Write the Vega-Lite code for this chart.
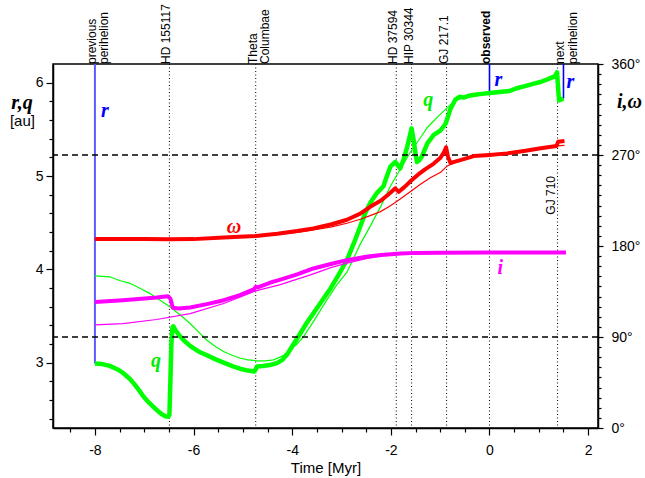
{
  "$schema": "https://vega.github.io/schema/vega-lite/v6.json",
  "width": 545,
  "height": 364,
  "autosize": {"type": "none"},
  "padding": {"left": 53, "top": 64, "right": 47, "bottom": 50},
  "background": "white",
  "config": {
    "view": {"stroke": "black", "strokeWidth": 1.5},
    "axis": {
      "grid": false,
      "domainColor": "black",
      "domainWidth": 1.5,
      "tickColor": "black",
      "tickWidth": 1.2,
      "labelColor": "black",
      "labelFont": "Liberation Sans",
      "labelFontSize": 14,
      "labelOverlap": false,
      "labelFlush": false,
      "labelBound": false,
      "titleColor": "black"
    }
  },
  "datasets": {
    "rq": [
      {"s": "q", "t": -8.0, "v": 2.99}, {"s": "q", "t": -7.85, "v": 2.985}, {"s": "q", "t": -7.7, "v": 2.965},
      {"s": "q", "t": -7.55, "v": 2.93}, {"s": "q", "t": -7.43, "v": 2.89}, {"s": "q", "t": -7.3, "v": 2.83},
      {"s": "q", "t": -7.2, "v": 2.77}, {"s": "q", "t": -7.1, "v": 2.7}, {"s": "q", "t": -7.02, "v": 2.64},
      {"s": "q", "t": -6.92, "v": 2.58}, {"s": "q", "t": -6.82, "v": 2.53}, {"s": "q", "t": -6.72, "v": 2.48},
      {"s": "q", "t": -6.65, "v": 2.45}, {"s": "q", "t": -6.57, "v": 2.425}, {"s": "q", "t": -6.52, "v": 2.42},
      {"s": "q", "t": -6.49, "v": 2.44}, {"s": "q", "t": -6.47, "v": 2.8}, {"s": "q", "t": -6.45, "v": 3.2},
      {"s": "q", "t": -6.43, "v": 3.37}, {"s": "q", "t": -6.41, "v": 3.39}, {"s": "q", "t": -6.37, "v": 3.35},
      {"s": "q", "t": -6.3, "v": 3.3}, {"s": "q", "t": -6.2, "v": 3.24}, {"s": "q", "t": -6.07, "v": 3.18},
      {"s": "q", "t": -5.9, "v": 3.12}, {"s": "q", "t": -5.73, "v": 3.08}, {"s": "q", "t": -5.55, "v": 3.035},
      {"s": "q", "t": -5.39, "v": 3.0}, {"s": "q", "t": -5.2, "v": 2.96}, {"s": "q", "t": -5.06, "v": 2.935},
      {"s": "q", "t": -4.9, "v": 2.915}, {"s": "q", "t": -4.77, "v": 2.905}, {"s": "q", "t": -4.74, "v": 2.93},
      {"s": "q", "t": -4.71, "v": 2.96}, {"s": "q", "t": -4.6, "v": 2.965}, {"s": "q", "t": -4.45, "v": 2.975},
      {"s": "q", "t": -4.31, "v": 2.995}, {"s": "q", "t": -4.2, "v": 3.03}, {"s": "q", "t": -4.1, "v": 3.09},
      {"s": "q", "t": -3.97, "v": 3.2}, {"s": "q", "t": -3.84, "v": 3.31}, {"s": "q", "t": -3.7, "v": 3.43},
      {"s": "q", "t": -3.57, "v": 3.53}, {"s": "q", "t": -3.4, "v": 3.66}, {"s": "q", "t": -3.23, "v": 3.79},
      {"s": "q", "t": -3.06, "v": 3.94}, {"s": "q", "t": -2.89, "v": 4.1}, {"s": "q", "t": -2.75, "v": 4.28},
      {"s": "q", "t": -2.62, "v": 4.46}, {"s": "q", "t": -2.52, "v": 4.6}, {"s": "q", "t": -2.42, "v": 4.71},
      {"s": "q", "t": -2.28, "v": 4.82}, {"s": "q", "t": -2.15, "v": 4.89}, {"s": "q", "t": -2.08, "v": 5.0},
      {"s": "q", "t": -2.01, "v": 5.1}, {"s": "q", "t": -1.91, "v": 5.15}, {"s": "q", "t": -1.85, "v": 5.11},
      {"s": "q", "t": -1.81, "v": 5.08}, {"s": "q", "t": -1.74, "v": 5.18}, {"s": "q", "t": -1.67, "v": 5.31},
      {"s": "q", "t": -1.62, "v": 5.42}, {"s": "q", "t": -1.58, "v": 5.51}, {"s": "q", "t": -1.54, "v": 5.39},
      {"s": "q", "t": -1.5, "v": 5.24}, {"s": "q", "t": -1.47, "v": 5.15}, {"s": "q", "t": -1.42, "v": 5.17},
      {"s": "q", "t": -1.37, "v": 5.21}, {"s": "q", "t": -1.26, "v": 5.35}, {"s": "q", "t": -1.13, "v": 5.44},
      {"s": "q", "t": -0.99, "v": 5.49}, {"s": "q", "t": -0.89, "v": 5.56}, {"s": "q", "t": -0.84, "v": 5.64},
      {"s": "q", "t": -0.79, "v": 5.72}, {"s": "q", "t": -0.69, "v": 5.82}, {"s": "q", "t": -0.6, "v": 5.85},
      {"s": "q", "t": -0.52, "v": 5.84}, {"s": "q", "t": -0.42, "v": 5.86}, {"s": "q", "t": -0.3, "v": 5.87},
      {"s": "q", "t": -0.15, "v": 5.88}, {"s": "q", "t": 0.0, "v": 5.89}, {"s": "q", "t": 0.2, "v": 5.9},
      {"s": "q", "t": 0.4, "v": 5.91}, {"s": "q", "t": 0.55, "v": 5.94}, {"s": "q", "t": 0.7, "v": 5.96},
      {"s": "q", "t": 0.9, "v": 5.99}, {"s": "q", "t": 1.05, "v": 6.01}, {"s": "q", "t": 1.2, "v": 6.04},
      {"s": "q", "t": 1.33, "v": 6.07}, {"s": "q", "t": 1.37, "v": 6.11}, {"s": "q", "t": 1.39, "v": 5.95},
      {"s": "q", "t": 1.41, "v": 5.81}, {"s": "q", "t": 1.5, "v": 5.83},

      {"s": "q0", "t": -8.0, "v": 3.93}, {"s": "q0", "t": -7.7, "v": 3.92}, {"s": "q0", "t": -7.5, "v": 3.88},
      {"s": "q0", "t": -7.29, "v": 3.85}, {"s": "q0", "t": -7.1, "v": 3.8}, {"s": "q0", "t": -6.88, "v": 3.74},
      {"s": "q0", "t": -6.68, "v": 3.67}, {"s": "q0", "t": -6.48, "v": 3.6}, {"s": "q0", "t": -6.27, "v": 3.51},
      {"s": "q0", "t": -6.07, "v": 3.42}, {"s": "q0", "t": -5.9, "v": 3.33}, {"s": "q0", "t": -5.73, "v": 3.24},
      {"s": "q0", "t": -5.55, "v": 3.17}, {"s": "q0", "t": -5.39, "v": 3.12}, {"s": "q0", "t": -5.22, "v": 3.08},
      {"s": "q0", "t": -5.06, "v": 3.05}, {"s": "q0", "t": -4.9, "v": 3.03}, {"s": "q0", "t": -4.72, "v": 3.02},
      {"s": "q0", "t": -4.55, "v": 3.02}, {"s": "q0", "t": -4.38, "v": 3.03}, {"s": "q0", "t": -4.2, "v": 3.07},
      {"s": "q0", "t": -4.04, "v": 3.14}, {"s": "q0", "t": -3.9, "v": 3.2}, {"s": "q0", "t": -3.77, "v": 3.28},
      {"s": "q0", "t": -3.57, "v": 3.44}, {"s": "q0", "t": -3.3, "v": 3.67}, {"s": "q0", "t": -3.1, "v": 3.83},
      {"s": "q0", "t": -2.89, "v": 3.97}, {"s": "q0", "t": -2.62, "v": 4.27}, {"s": "q0", "t": -2.42, "v": 4.46},
      {"s": "q0", "t": -2.2, "v": 4.68}, {"s": "q0", "t": -2.01, "v": 4.89}, {"s": "q0", "t": -1.8, "v": 5.08},
      {"s": "q0", "t": -1.6, "v": 5.26}, {"s": "q0", "t": -1.4, "v": 5.41}, {"s": "q0", "t": -1.26, "v": 5.52},
      {"s": "q0", "t": -1.0, "v": 5.66}, {"s": "q0", "t": -0.86, "v": 5.73}, {"s": "q0", "t": -0.69, "v": 5.81},
      {"s": "q0", "t": -0.5, "v": 5.84}, {"s": "q0", "t": -0.3, "v": 5.87}, {"s": "q0", "t": 0.0, "v": 5.89},
      {"s": "q0", "t": 0.4, "v": 5.91}, {"s": "q0", "t": 0.7, "v": 5.96}, {"s": "q0", "t": 1.05, "v": 6.01},
      {"s": "q0", "t": 1.36, "v": 6.06}
    ],
    "ang": [
      {"s": "w", "t": -8.0, "v": 187}, {"s": "w", "t": -7.5, "v": 186.9}, {"s": "w", "t": -7.0, "v": 186.8},
      {"s": "w", "t": -6.5, "v": 186.6}, {"s": "w", "t": -6.0, "v": 186.8}, {"s": "w", "t": -5.39, "v": 188.3},
      {"s": "w", "t": -4.74, "v": 190}, {"s": "w", "t": -4.3, "v": 192.2}, {"s": "w", "t": -3.9, "v": 194.8},
      {"s": "w", "t": -3.57, "v": 197.4}, {"s": "w", "t": -3.2, "v": 201.5}, {"s": "w", "t": -2.89, "v": 206},
      {"s": "w", "t": -2.62, "v": 212}, {"s": "w", "t": -2.42, "v": 218.8}, {"s": "w", "t": -2.2, "v": 225},
      {"s": "w", "t": -2.05, "v": 231}, {"s": "w", "t": -1.91, "v": 237}, {"s": "w", "t": -1.84, "v": 233.6},
      {"s": "w", "t": -1.72, "v": 238.5}, {"s": "w", "t": -1.58, "v": 245}, {"s": "w", "t": -1.45, "v": 250.5},
      {"s": "w", "t": -1.3, "v": 256}, {"s": "w", "t": -1.13, "v": 261.5}, {"s": "w", "t": -1.0, "v": 267},
      {"s": "w", "t": -0.93, "v": 272}, {"s": "w", "t": -0.88, "v": 277.5}, {"s": "w", "t": -0.84, "v": 268},
      {"s": "w", "t": -0.79, "v": 262}, {"s": "w", "t": -0.7, "v": 263.5}, {"s": "w", "t": -0.59, "v": 265},
      {"s": "w", "t": -0.32, "v": 268.9}, {"s": "w", "t": 0.0, "v": 270}, {"s": "w", "t": 0.36, "v": 271.6},
      {"s": "w", "t": 0.7, "v": 274}, {"s": "w", "t": 1.04, "v": 276.6}, {"s": "w", "t": 1.36, "v": 279},
      {"s": "w", "t": 1.39, "v": 283}, {"s": "w", "t": 1.52, "v": 283.8},

      {"s": "w0", "t": -8.0, "v": 187}, {"s": "w0", "t": -7.5, "v": 186.9}, {"s": "w0", "t": -7.0, "v": 186.8},
      {"s": "w0", "t": -6.5, "v": 186.6}, {"s": "w0", "t": -6.0, "v": 186.8}, {"s": "w0", "t": -5.39, "v": 188.3},
      {"s": "w0", "t": -4.74, "v": 189.8}, {"s": "w0", "t": -4.3, "v": 191.5}, {"s": "w0", "t": -3.9, "v": 193.5},
      {"s": "w0", "t": -3.57, "v": 195.8}, {"s": "w0", "t": -3.2, "v": 199}, {"s": "w0", "t": -2.89, "v": 202.5},
      {"s": "w0", "t": -2.62, "v": 206.5}, {"s": "w0", "t": -2.42, "v": 210}, {"s": "w0", "t": -2.21, "v": 214},
      {"s": "w0", "t": -2.0, "v": 220}, {"s": "w0", "t": -1.81, "v": 226.5}, {"s": "w0", "t": -1.6, "v": 234},
      {"s": "w0", "t": -1.4, "v": 241}, {"s": "w0", "t": -1.2, "v": 247.5}, {"s": "w0", "t": -0.99, "v": 253},
      {"s": "w0", "t": -0.86, "v": 259}, {"s": "w0", "t": -0.72, "v": 262.5}, {"s": "w0", "t": -0.59, "v": 265},
      {"s": "w0", "t": -0.32, "v": 268.9}, {"s": "w0", "t": 0.0, "v": 270}, {"s": "w0", "t": 0.36, "v": 271.6},
      {"s": "w0", "t": 0.7, "v": 274}, {"s": "w0", "t": 1.04, "v": 276.6}, {"s": "w0", "t": 1.36, "v": 279},
      {"s": "w0", "t": 1.52, "v": 279.5},

      {"s": "i", "t": -8.0, "v": 124.7}, {"s": "i", "t": -7.43, "v": 126.4}, {"s": "i", "t": -6.75, "v": 129},
      {"s": "i", "t": -6.52, "v": 130.4}, {"s": "i", "t": -6.47, "v": 128}, {"s": "i", "t": -6.42, "v": 119},
      {"s": "i", "t": -6.3, "v": 118.2}, {"s": "i", "t": -6.07, "v": 119.2}, {"s": "i", "t": -5.73, "v": 122.5},
      {"s": "i", "t": -5.39, "v": 126.4}, {"s": "i", "t": -5.06, "v": 131.5}, {"s": "i", "t": -4.77, "v": 137.5},
      {"s": "i", "t": -4.74, "v": 139.6}, {"s": "i", "t": -4.7, "v": 139}, {"s": "i", "t": -4.4, "v": 144.5},
      {"s": "i", "t": -4.24, "v": 146.8}, {"s": "i", "t": -3.9, "v": 152}, {"s": "i", "t": -3.57, "v": 157.8},
      {"s": "i", "t": -3.2, "v": 162.5}, {"s": "i", "t": -2.89, "v": 166}, {"s": "i", "t": -2.5, "v": 169.3},
      {"s": "i", "t": -2.2, "v": 171.2}, {"s": "i", "t": -1.8, "v": 172.6}, {"s": "i", "t": -1.5, "v": 173.2},
      {"s": "i", "t": -1.0, "v": 173.4}, {"s": "i", "t": 0.0, "v": 173.5}, {"s": "i", "t": 1.55, "v": 173.6},

      {"s": "i0", "t": -8.0, "v": 101.9}, {"s": "i0", "t": -7.43, "v": 103.3}, {"s": "i0", "t": -6.75, "v": 107.3},
      {"s": "i0", "t": -6.07, "v": 113.2}, {"s": "i0", "t": -5.39, "v": 123.1}, {"s": "i0", "t": -4.74, "v": 135.6},
      {"s": "i0", "t": -4.24, "v": 141.8}, {"s": "i0", "t": -4.04, "v": 145}, {"s": "i0", "t": -3.63, "v": 151.5},
      {"s": "i0", "t": -3.2, "v": 158.8}, {"s": "i0", "t": -2.89, "v": 163}, {"s": "i0", "t": -2.5, "v": 167.5},
      {"s": "i0", "t": -2.2, "v": 170.3}, {"s": "i0", "t": -1.8, "v": 172.3}, {"s": "i0", "t": -1.5, "v": 173.1},
      {"s": "i0", "t": -1.0, "v": 173.4}, {"s": "i0", "t": 0.0, "v": 173.5}, {"s": "i0", "t": 1.55, "v": 173.6}
    ],
    "encounters": [
      {"t": -8.0, "name": "previous\nperihelion", "kind": "perihelion"},
      {"t": -6.49, "name": "HD 155117", "kind": "star"},
      {"t": -4.74, "name": "Theta\nColumbae", "kind": "star"},
      {"t": -1.89, "name": "HD 37594", "kind": "star"},
      {"t": -1.58, "name": "HIP 30344", "kind": "star"},
      {"t": -0.87, "name": "GJ 217.1", "kind": "star"},
      {"t": 0.0, "name": "observed", "kind": "now"},
      {"t": 1.38, "name": "GJ 710", "kind": "inner"},
      {"t": 1.5, "name": "next\nperihelion", "kind": "perihelion"}
    ],
    "radius": [
      {"t": -8.0, "v": 2.99, "when": "past"},
      {"t": 0.0, "v": 5.89, "when": "now"},
      {"t": 1.5, "v": 5.83, "when": "future"}
    ],
    "rqNames": [
      {"t": -7.8, "v": 5.7, "label": "r", "s": "r"},
      {"t": 0.18, "v": 6.03, "label": "r", "s": "r"},
      {"t": 1.64, "v": 6.01, "label": "r", "s": "r"},
      {"t": -6.76, "v": 3.02, "label": "q", "s": "q"},
      {"t": -1.24, "v": 5.81, "label": "q", "s": "q"}
    ],
    "angNames": [
      {"t": -5.18, "v": 198.7, "label": "ω", "s": "w"},
      {"t": 0.22, "v": 158, "label": "i", "s": "i"}
    ],
    "refLevels": [{"v": 90}, {"v": 270}],
    "unit": [{"t": -9.47, "v": 5.59, "label": "[au]"}]
  },
  "layer": [
    {
      "layer": [
        {
          "data": {"name": "encounters"},
          "transform": [{"filter": "datum.kind !== 'perihelion'"}],
          "mark": {"type": "rule", "color": "black", "strokeWidth": 1, "strokeDash": [1, 2.5]},
          "encoding": {
            "x": {"field": "t", "type": "quantitative", "scale": {"domain": [-8.85, 2.2], "nice": false, "zero": false}}
          }
        },
        {
          "data": {"name": "radius"},
          "transform": [{"filter": "datum.when === 'past'"}],
          "mark": {"type": "rule", "color": "#5c5cff", "strokeWidth": 2},
          "encoding": {
            "x": {"field": "t", "type": "quantitative", "scale": {"domain": [-8.85, 2.2], "nice": false, "zero": false}},
            "y": {"field": "v", "type": "quantitative", "scale": {"domain": [2.3, 6.2], "nice": false, "zero": false}},
            "y2": {"datum": 6.2}
          }
        },
        {
          "data": {"name": "radius"},
          "transform": [{"filter": "datum.when !== 'past'"}],
          "mark": {"type": "rule", "color": "#0000ff", "strokeWidth": 1.6},
          "encoding": {
            "x": {"field": "t", "type": "quantitative", "scale": {"domain": [-8.85, 2.2], "nice": false, "zero": false}},
            "y": {"field": "v", "type": "quantitative", "scale": {"domain": [2.3, 6.2], "nice": false, "zero": false}},
            "y2": {"datum": 6.2}
          }
        },
        {
          "data": {"name": "rq"},
          "transform": [{"filter": "datum.s === 'q0'"}],
          "mark": {"type": "line", "color": "#00ff00", "strokeWidth": 1.2},
          "encoding": {
            "x": {"field": "t", "type": "quantitative", "scale": {"domain": [-8.85, 2.2], "nice": false, "zero": false}},
            "y": {"field": "v", "type": "quantitative", "scale": {"domain": [2.3, 6.2], "nice": false, "zero": false}}
          }
        },
        {
          "data": {"name": "rq"},
          "transform": [{"filter": "datum.s === 'q'"}],
          "mark": {"type": "line", "color": "#00ff00", "strokeWidth": 4.5, "strokeJoin": "round"},
          "encoding": {
            "x": {
              "field": "t",
              "type": "quantitative",
              "scale": {"domain": [-8.85, 2.2], "nice": false, "zero": false},
              "axis": {
                "values": [-8.5, -8, -7.5, -7, -6.5, -6, -5.5, -5, -4.5, -4, -3.5, -3, -2.5, -2, -1.5, -1, -0.5, 0, 0.5, 1, 1.5, 2],
                "tickCount": 1000,
                "labelExpr": "datum.value % 2 === 0 ? '' + datum.value : ''",
                "tickSize": {"condition": {"test": "datum.value % 2 === 0", "value": 7}, "value": 4},
                "labelPadding": 8,
                "title": "Time [Myr]",
                "titleFont": "Liberation Sans",
                "titleFontSize": 15,
                "titleFontWeight": "normal",
                "titleBaseline": "middle",
                "titleY": 39
              }
            },
            "y": {
              "field": "v",
              "type": "quantitative",
              "scale": {"domain": [2.3, 6.2], "nice": false, "zero": false},
              "axis": {
                "orient": "left",
                "values": [2.4, 2.6, 2.8, 3, 3.2, 3.4, 3.6, 3.8, 4, 4.2, 4.4, 4.6, 4.8, 5, 5.2, 5.4, 5.6, 5.8, 6],
                "tickCount": 1000,
                "labelExpr": "datum.value % 1 === 0 ? '' + datum.value : ''",
                "tickSize": {"condition": {"test": "datum.value % 1 === 0", "value": 7}, "value": 4},
                "labelPadding": 3,
                "title": "r,q",
                "titleFont": "Liberation Serif",
                "titleFontStyle": "italic",
                "titleFontWeight": "bold",
                "titleFontSize": 20,
                "titleAngle": 0,
                "titleAlign": "center",
                "titleBaseline": "middle",
                "titleX": -31.5,
                "titleY": 38
              }
            }
          }
        },
        {
          "data": {"name": "encounters"},
          "transform": [{"filter": "datum.kind === 'star' || datum.kind === 'perihelion'"}],
          "mark": {"type": "text", "angle": 270, "align": "left", "baseline": "middle", "dy": -3, "font": "Liberation Sans", "fontSize": 12, "lineHeight": 12.5, "lineBreak": "\n", "color": "black"},
          "encoding": {
            "x": {"field": "t", "type": "quantitative", "scale": {"domain": [-8.85, 2.2], "nice": false, "zero": false}},
            "y": {"datum": 6.2},
            "text": {"field": "name"}
          }
        },
        {
          "data": {"name": "encounters"},
          "transform": [{"filter": "datum.kind === 'now'"}],
          "mark": {"type": "text", "angle": 270, "align": "left", "baseline": "middle", "dy": -3, "font": "Liberation Sans", "fontSize": 12, "fontWeight": "bold", "color": "black"},
          "encoding": {
            "x": {"field": "t", "type": "quantitative", "scale": {"domain": [-8.85, 2.2], "nice": false, "zero": false}},
            "y": {"datum": 6.2},
            "text": {"field": "name"}
          }
        },
        {
          "data": {"name": "encounters"},
          "transform": [{"filter": "datum.kind === 'inner'"}],
          "mark": {"type": "text", "angle": 270, "align": "right", "baseline": "bottom", "font": "Liberation Sans", "fontSize": 12, "color": "black"},
          "encoding": {
            "x": {"field": "t", "type": "quantitative", "scale": {"domain": [-8.85, 2.2], "nice": false, "zero": false}},
            "y": {"datum": 5.0},
            "text": {"field": "name"}
          }
        },
        {
          "data": {"name": "rqNames"},
          "mark": {"type": "text", "font": "Liberation Serif", "fontStyle": "italic", "fontWeight": "bold", "fontSize": 20, "baseline": "middle", "align": "center"},
          "encoding": {
            "x": {"field": "t", "type": "quantitative", "scale": {"domain": [-8.85, 2.2], "nice": false, "zero": false}},
            "y": {"field": "v", "type": "quantitative", "scale": {"domain": [2.3, 6.2], "nice": false, "zero": false}},
            "text": {"field": "label"},
            "color": {"field": "s", "type": "nominal", "scale": {"domain": ["r", "q"], "range": ["#0000ff", "#00ee00"]}, "legend": null}
          }
        },
        {
          "data": {"name": "unit"},
          "mark": {"type": "text", "font": "Liberation Sans", "fontSize": 15, "baseline": "middle", "align": "center", "color": "black"},
          "encoding": {
            "x": {"field": "t", "type": "quantitative", "scale": {"domain": [-8.85, 2.2], "nice": false, "zero": false}},
            "y": {"field": "v", "type": "quantitative", "scale": {"domain": [2.3, 6.2], "nice": false, "zero": false}},
            "text": {"field": "label"}
          }
        }
      ]
    },
    {
      "layer": [
        {
          "data": {"name": "refLevels"},
          "mark": {"type": "rule", "color": "#000000", "strokeWidth": 1.4, "strokeDash": [6, 4]},
          "encoding": {
            "y": {"field": "v", "type": "quantitative", "scale": {"domain": [0, 360], "nice": false, "zero": false}}
          }
        },
        {
          "data": {"name": "ang"},
          "transform": [{"filter": "datum.s === 'w0'"}],
          "mark": {"type": "line", "color": "#ff0000", "strokeWidth": 1.2},
          "encoding": {
            "x": {"field": "t", "type": "quantitative", "scale": {"domain": [-8.85, 2.2], "nice": false, "zero": false}},
            "y": {"field": "v", "type": "quantitative", "scale": {"domain": [0, 360], "nice": false, "zero": false}}
          }
        },
        {
          "data": {"name": "ang"},
          "transform": [{"filter": "datum.s === 'w'"}],
          "mark": {"type": "line", "color": "#ff0000", "strokeWidth": 4, "strokeJoin": "round"},
          "encoding": {
            "x": {"field": "t", "type": "quantitative", "scale": {"domain": [-8.85, 2.2], "nice": false, "zero": false}},
            "y": {
              "field": "v",
              "type": "quantitative",
              "scale": {"domain": [0, 360], "nice": false, "zero": false},
              "axis": {
                "orient": "right",
                "values": [0, 10, 20, 30, 40, 50, 60, 70, 80, 90, 100, 110, 120, 130, 140, 150, 160, 170, 180, 190, 200, 210, 220, 230, 240, 250, 260, 270, 280, 290, 300, 310, 320, 330, 340, 350, 360],
                "tickCount": 1000,
                "labelExpr": "datum.value % 90 === 0 ? datum.value + '°' : ''",
                "tickSize": {"condition": {"test": "datum.value % 90 === 0", "value": 5}, "value": 3},
                "labelPadding": 8,
                "title": "i,ω",
                "titleFont": "Liberation Serif",
                "titleFontStyle": "italic",
                "titleFontWeight": "bold",
                "titleFontSize": 20,
                "titleAngle": 0,
                "titleAlign": "center",
                "titleBaseline": "middle",
                "titleX": 31,
                "titleY": 37
              }
            }
          }
        },
        {
          "data": {"name": "ang"},
          "transform": [{"filter": "datum.s === 'i0'"}],
          "mark": {"type": "line", "color": "#ff00ff", "strokeWidth": 1.2},
          "encoding": {
            "x": {"field": "t", "type": "quantitative", "scale": {"domain": [-8.85, 2.2], "nice": false, "zero": false}},
            "y": {"field": "v", "type": "quantitative", "scale": {"domain": [0, 360], "nice": false, "zero": false}}
          }
        },
        {
          "data": {"name": "ang"},
          "transform": [{"filter": "datum.s === 'i'"}],
          "mark": {"type": "line", "color": "#ff00ff", "strokeWidth": 4, "strokeJoin": "round"},
          "encoding": {
            "x": {"field": "t", "type": "quantitative", "scale": {"domain": [-8.85, 2.2], "nice": false, "zero": false}},
            "y": {"field": "v", "type": "quantitative", "scale": {"domain": [0, 360], "nice": false, "zero": false}}
          }
        },
        {
          "data": {"name": "angNames"},
          "mark": {"type": "text", "font": "Liberation Serif", "fontStyle": "italic", "fontWeight": "bold", "fontSize": 20, "baseline": "middle", "align": "center"},
          "encoding": {
            "x": {"field": "t", "type": "quantitative", "scale": {"domain": [-8.85, 2.2], "nice": false, "zero": false}},
            "y": {"field": "v", "type": "quantitative", "scale": {"domain": [0, 360], "nice": false, "zero": false}},
            "text": {"field": "label"},
            "color": {"field": "s", "type": "nominal", "scale": {"domain": ["w", "i"], "range": ["#ff0000", "#ff00ff"]}, "legend": null}
          }
        }
      ]
    }
  ],
  "resolve": {"scale": {"y": "independent", "color": "independent"}}
}
